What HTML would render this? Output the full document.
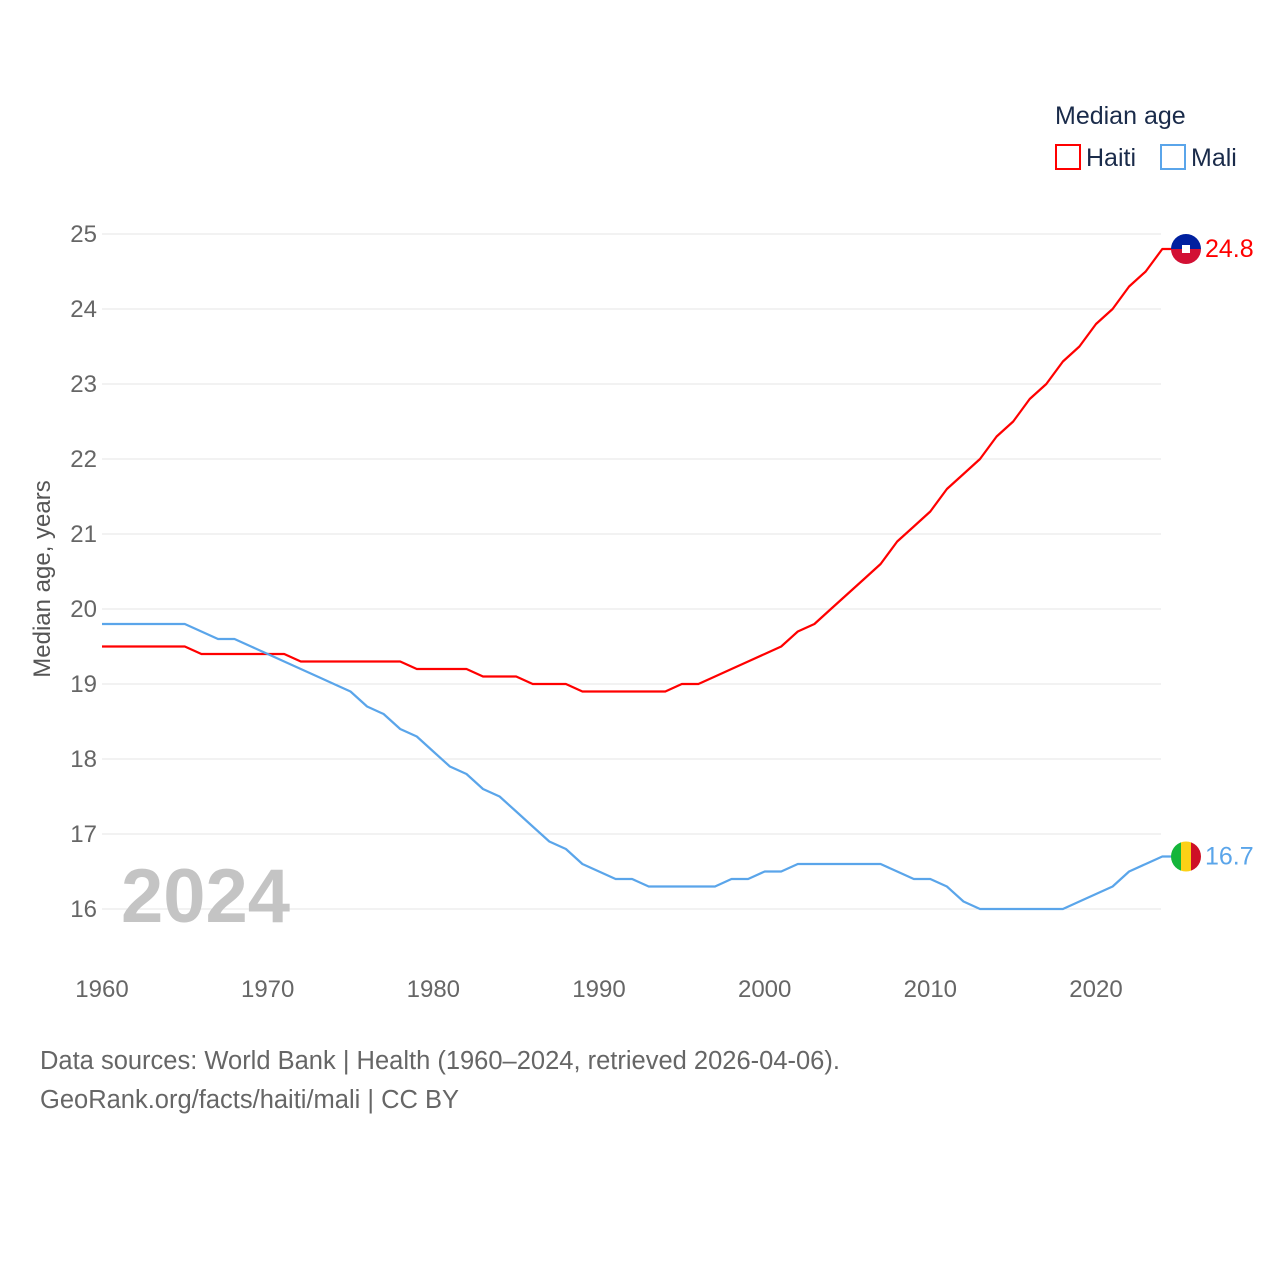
<!DOCTYPE html>
<html><head><meta charset="utf-8">
<style>
body{margin:0;background:#fff;width:1280px;height:1280px;overflow:hidden;font-family:"Liberation Sans",sans-serif}
svg text{font-family:"Liberation Sans",sans-serif}
</style></head>
<body>
<svg id="chart" width="1280" height="1280" xmlns="http://www.w3.org/2000/svg">
<g id="grid"></g>
<g id="yticks"></g>
<g id="xticks"></g>
<text transform="translate(50,579) rotate(-90)" text-anchor="middle" font-size="24" fill="#555">Median age, years</text>
<text x="121" y="922" font-size="76" font-weight="bold" fill="#c4c4c4">2024</text>
<g>
<text x="1055" y="124" font-size="25" fill="#1a2b4a">Median age</text>
<rect x="1056" y="145" width="24" height="24" fill="none" stroke="#ff0000" stroke-width="2"/>
<text x="1086" y="166" font-size="25" fill="#1a2b4a">Haiti</text>
<rect x="1161" y="145" width="24" height="24" fill="none" stroke="#5aa5ea" stroke-width="2"/>
<text x="1191" y="166" font-size="25" fill="#1a2b4a">Mali</text>
</g>
<g id="series"></g>
<text x="40" y="1069" font-size="25.5" fill="#666">Data sources: World Bank | Health (1960–2024, retrieved 2026-04-06).</text>
<text x="40" y="1108" font-size="25.5" fill="#666">GeoRank.org/facts/haiti/mali | CC BY</text>
</svg>
<script>
const years = [];
for (let y = 1960; y <= 2024; y++) years.push(y);
const haiti = [19.5,19.5,19.5,19.5,19.5,19.5,19.4,19.4,19.4,19.4,19.4,19.4,19.3,19.3,19.3,19.3,19.3,19.3,19.3,19.2,19.2,19.2,19.2,19.1,19.1,19.1,19.0,19.0,19.0,18.9,18.9,18.9,18.9,18.9,18.9,19.0,19.0,19.1,19.2,19.3,19.4,19.5,19.7,19.8,20.0,20.2,20.4,20.6,20.9,21.1,21.3,21.6,21.8,22.0,22.3,22.5,22.8,23.0,23.3,23.5,23.8,24.0,24.3,24.5,24.8];
const mali = [19.8,19.8,19.8,19.8,19.8,19.8,19.7,19.6,19.6,19.5,19.4,19.3,19.2,19.1,19.0,18.9,18.7,18.6,18.4,18.3,18.1,17.9,17.8,17.6,17.5,17.3,17.1,16.9,16.8,16.6,16.5,16.4,16.4,16.3,16.3,16.3,16.3,16.3,16.4,16.4,16.5,16.5,16.6,16.6,16.6,16.6,16.6,16.6,16.5,16.4,16.4,16.3,16.1,16.0,16.0,16.0,16.0,16.0,16.0,16.1,16.2,16.3,16.5,16.6,16.7];
const yTicks = [16,17,18,19,20,21,22,23,24,25];
const xTicks = [1960,1970,1980,1990,2000,2010,2020];
const NS = "http://www.w3.org/2000/svg";
const xs = y => 102 + (y - 1960) * (1096 - 102) / 60;
const ys = v => 909 - (v - 16) * 75;
function mk(tag, attrs, parent){const e=document.createElementNS(NS,tag);for(const k in attrs)e.setAttribute(k,attrs[k]);parent.appendChild(e);return e;}
const grid=document.getElementById('grid'), yt=document.getElementById('yticks'), xt=document.getElementById('xticks'), ser=document.getElementById('series');
yTicks.forEach(v=>{
  const l=mk('line',{x1:102,x2:1161,y1:ys(v),y2:ys(v),stroke:'#e6e6e6','stroke-width':1},grid);
  
  
  const t=mk('text',{x:97,y:ys(v)+8,'text-anchor':'end','font-size':24,fill:'#666'},yt);
  t.textContent=v;
  
  
});
xTicks.forEach(v=>{
  const t=mk('text',{x:xs(v),y:997,'text-anchor':'middle','font-size':24,fill:'#666'},xt);
  t.textContent=v;
  
  
});
function line(data,color,name){
  const d=data.map((v,i)=>(i?'L':'M')+xs(years[i]).toFixed(1)+','+ys(v).toFixed(1)).join('')+'L'+(xs(2024)+10)+','+ys(data[data.length-1]);
  const p=mk('path',{d:d,fill:'none',stroke:color,'stroke-width':2.2,'stroke-linejoin':'round'},ser);
  
  
}
line(haiti,'#ff0000','haiti');
line(mali,'#5aa5ea','mali');
const hx=1186, hy=ys(haiti[haiti.length-1]), my=ys(mali[mali.length-1]);
const hf=mk('g',{},ser);


mk('clipPath',{id:'c1'},hf); mk('circle',{cx:hx,cy:hy,r:15},hf.lastChild);
mk('rect',{x:hx-15,y:hy-15,width:30,height:15,fill:'#00209f','clip-path':'url(#c1)'},hf);
mk('rect',{x:hx-15,y:hy,width:30,height:15,fill:'#d21034','clip-path':'url(#c1)'},hf);
mk('rect',{x:hx-4,y:hy-4,width:8,height:8,fill:'#fff'},hf);
const mf=mk('g',{},ser);


mk('clipPath',{id:'c2'},mf); mk('circle',{cx:hx,cy:my,r:15},mf.lastChild);
mk('rect',{x:hx-15,y:my-15,width:10,height:30,fill:'#14b53a','clip-path':'url(#c2)'},mf);
mk('rect',{x:hx-5,y:my-15,width:10,height:30,fill:'#fcd116','clip-path':'url(#c2)'},mf);
mk('rect',{x:hx+5,y:my-15,width:10,height:30,fill:'#ce1126','clip-path':'url(#c2)'},mf);
const hl=mk('text',{x:1205,y:hy+8,'font-size':25,fill:'#ff0000'},ser);
hl.textContent=haiti[haiti.length-1].toFixed(1);


const ml=mk('text',{x:1205,y:my+8,'font-size':25,fill:'#5aa5ea'},ser);
ml.textContent=mali[mali.length-1].toFixed(1);


</script>
</body></html>
